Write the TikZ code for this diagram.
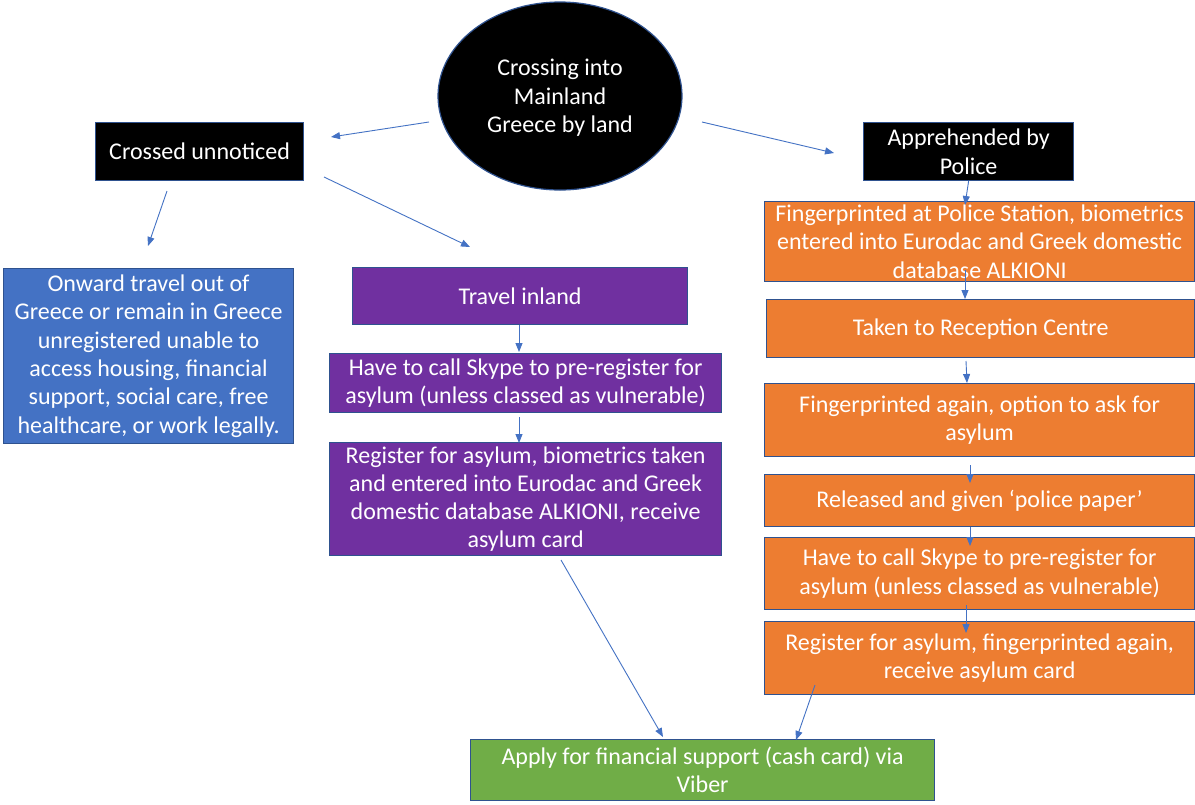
\documentclass[tikz,border=0pt]{standalone}
\usepackage{fontspec}
\setmainfont{Carlito}
\usetikzlibrary{arrows.meta,shapes.geometric}
\definecolor{edge}{RGB}{47,82,143}
\definecolor{arrc}{RGB}{68,114,196}
\definecolor{orng}{RGB}{237,125,49}
\definecolor{purp}{RGB}{112,48,160}
\definecolor{blu}{RGB}{68,114,196}
\definecolor{grn}{RGB}{112,173,71}
\begin{document}
\begin{tikzpicture}[x=1pt,y=-1pt,
  box/.style={draw=edge, line width=1.2pt, text=white, align=center, inner sep=0pt,
    font=\fontsize{24}{28.3}\selectfont, anchor=north west},
  blackbox/.style={box, fill=black},
  orangebox/.style={box, fill=orng},
  purplebox/.style={box, fill=purp},
  bluebox/.style={box, fill=blu},
  greenbox/.style={box, fill=grn},
  arr/.style={draw=arrc, line width=0.9pt, -{Triangle[length=9pt,width=7pt]}}]
\fill[white] (0,0) rectangle (1195,804);
\useasboundingbox (0,0) rectangle (1195,804);

\node[ellipse, draw=edge, line width=1.2pt, fill=black, text=white, align=center,
  inner sep=0pt, minimum width=244, minimum height=188, text depth=-3pt,
  font=\fontsize{24}{28.5}\selectfont] (ell) at (560,96) {Crossing into\\Mainland\\Greece by land};

\node[blackbox, minimum width=208, minimum height=58] (cu) at (95,122) {Crossed unnoticed};
\node[blackbox, minimum width=210, minimum height=58] (app) at (863,122) {Apprehended by\\Police};

\node[bluebox, minimum width=290, minimum height=175] (onw) at (3,268) {Onward travel out of\\Greece or remain in Greece\\unregistered unable to\\access housing, financial\\support, social care, free\\healthcare, or work legally.};

\node[purplebox, minimum width=335, minimum height=57] (trav) at (352,267) {Travel inland};
\node[purplebox, minimum width=392, minimum height=59] (sky1) at (329,353) {Have to call Skype to pre-register for\\asylum (unless classed as vulnerable)};
\node[purplebox, minimum width=392, minimum height=113] (reg1) at (329,442) {Register for asylum, biometrics taken\\and entered into Eurodac and Greek\\domestic database ALKIONI, receive\\asylum card};

\node[orangebox, minimum width=430, minimum height=80] (o1) at (764,201) {Fingerprinted at Police Station, biometrics\\entered into Eurodac and Greek domestic\\database ALKIONI};
\node[orangebox, minimum width=428, minimum height=58] (o2) at (766,299) {Taken to Reception Centre};
\node[orangebox, minimum width=430, minimum height=73] (o3) at (764,383) {Fingerprinted again, option to ask for\\asylum};
\node[orangebox, minimum width=430, minimum height=52] (o4) at (764,474) {Released and given ‘police paper’};
\node[orangebox, minimum width=430, minimum height=72] (o5) at (764,537) {Have to call Skype to pre-register for\\asylum (unless classed as vulnerable)};
\node[orangebox, minimum width=430, minimum height=73] (o6) at (764,621) {Register for asylum, fingerprinted again,\\receive asylum card};

\node[greenbox, minimum width=464, minimum height=61] (fin) at (470,739) {Apply for financial support (cash card) via\\Viber};

% connector end points
\coordinate (a1s) at (429,122); \coordinate (a1e) at (331,137);
\coordinate (a2s) at (702,122); \coordinate (a2e) at (834,153);
\coordinate (a3s) at (167,191); \coordinate (a3e) at (148,246);
\coordinate (a4s) at (324,177); \coordinate (a4e) at (470,247);
\coordinate (a5s) at (519,325); \coordinate (a5e) at (519,352);
\coordinate (a6s) at (519,417); \coordinate (a6e) at (519,443);
\coordinate (a7e) at (965,205);
\coordinate (a8s) at (965,270); \coordinate (a8e) at (965,299);
\coordinate (a9s) at (966,361); \coordinate (a9e) at (967,383);
\coordinate (a10s) at (970,465); \coordinate (a10e) at (970,483);
\coordinate (a11s) at (970,527); \coordinate (a11e) at (970,546);
\coordinate (a12s) at (966,605); \coordinate (a12e) at (966,633);
\coordinate (a13s) at (815,685); \coordinate (a13e) at (796,740);
\coordinate (a14s) at (561,560); \coordinate (a14e) at (663,737);

\draw[arr] (a1s) -- (a1e);
\draw[arr] (a2s) -- (a2e);
\draw[arr] (a3s) -- (a3e);
\draw[arr] (a4s) -- (a4e);
\draw[arr] (a5s) -- (a5e);
\draw[arr] (a6s) -- (a6e);
\draw[arr] (app.south) -- (a7e);
\draw[arr] (a8s) -- (a8e);
\draw[arr] (a9s) -- (a9e);
\draw[arr] (a10s) -- (a10e);
\draw[arr] (a11s) -- (a11e);
\draw[arr] (a12s) -- (a12e);
\draw[arr] (a13s) -- (a13e);
\draw[arr] (a14s) -- (a14e);
\end{tikzpicture}
\end{document}
